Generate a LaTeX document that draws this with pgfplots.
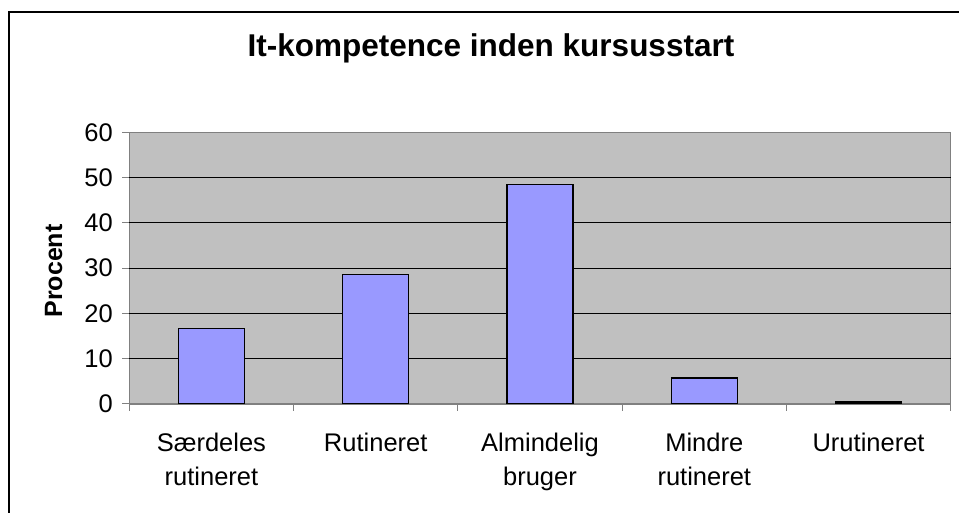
\documentclass[border=0pt]{standalone}
\usepackage{pgfplots}
\pgfplotsset{compat=1.18}
\usepackage{fontspec}
\setmainfont{Liberation Sans}
\definecolor{barblue}{HTML}{9999FF}
\definecolor{plotbg}{HTML}{C0C0C0}
\definecolor{axgray}{HTML}{808080}
\begin{document}
\begin{tikzpicture}[x=1pt,y=1pt]
\useasboundingbox (0,0) rectangle (959,513);
\clip (0,0) rectangle (959,513);
\fill[white] (0,0) rectangle (959,513);
\draw[line width=2pt] (9,501) rectangle (975,-20);
\node[anchor=base, font=\fontsize{31.5}{36}\selectfont\bfseries] at (491,456) {It-kompetence inden kursusstart};
\node[rotate=90, anchor=base, font=\fontsize{25}{30}\selectfont\bfseries] at (62,242) {Procent};
\begin{axis}[
  at={(129.3pt,109pt)}, anchor=south west,
  scale only axis, width=821.4pt, height=271.7pt,
  xmin=-0.5, xmax=4.5, ymin=0, ymax=60,
  axis background/.style={fill=plotbg},
  axis line style={axgray, line width=1.5pt},
  ytick={0,10,...,60},
  xtick={-0.5,0.5,...,4.5}, xticklabels={{},{},{},{},{},{}},
  extra x ticks={0,1,2,3,4},
  extra x tick labels={Særdeles\\rutineret, Rutineret, Almindelig\\bruger, Mindre\\rutineret, Urutineret},
  extra x tick style={tick style={draw=none}, xticklabel style={yshift=-18pt}},
  extra y ticks={10,20,30,40,50}, extra y tick labels={},
  extra y tick style={ymajorgrids=true, tick style={draw=none}},
  grid style={black, line width=1pt},
  tick align=outside, major tick length=7pt,
  tick style={axgray, line width=1pt},
  xtick pos=lower, ytick pos=left,
  ticklabel style={font=\fontsize{25.5}{34}\selectfont},
  xticklabel style={align=center},
  yticklabel style={xshift=-6pt},
  /pgf/number format/assume math mode=true,
  ybar, bar width=66pt,
]
\addplot[fill=barblue, draw=black, line width=1.5pt] coordinates {(0,16.7) (1,28.6) (2,48.5) (3,5.7) (4,0.4)};
\end{axis}
\end{tikzpicture}
\end{document}
